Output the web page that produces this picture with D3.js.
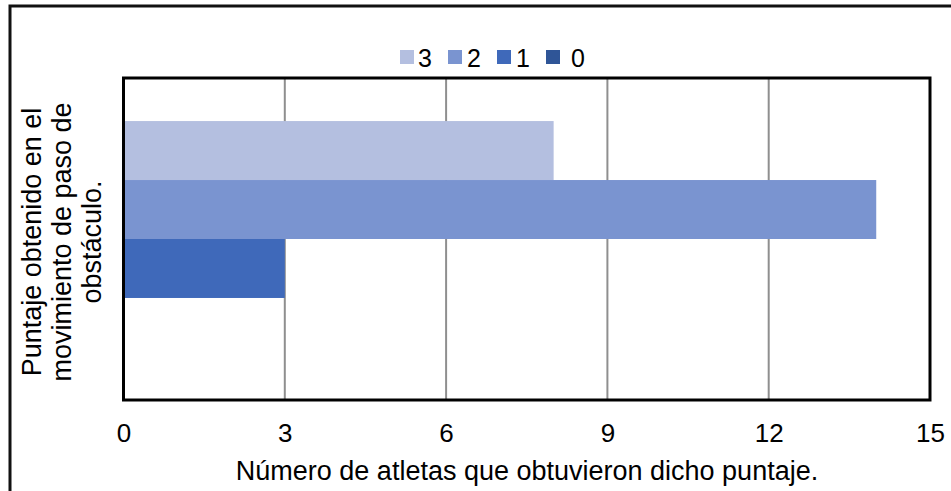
<!DOCTYPE html>
<html>
<head>
<meta charset="utf-8">
<script src="https://cdn.jsdelivr.net/npm/d3@7"></script>
<style>
  html, body { margin: 0; padding: 0; background: #fff; }
  svg { display: block; font-family: "Liberation Sans", Arial, sans-serif; }
</style>
</head>
<body>
<svg id="chart" width="951" height="491"></svg>
<script>
// Puntaje obtenido (series) and número de atletas
const series = ["3", "2", "1", "0"];
const values = [8, 14, 3, 0];
const colors = ["#b4bfe0", "#7a94d0", "#3f69ba", "#2f5597"];
const xTicks = [0, 3, 6, 9, 12, 15];
const yTitleLines = ["Puntaje obtenido en el", "movimiento de paso de", "obstáculo."];
const xTitle = "Número de atletas que obtuvieron dicho puntaje.";

const FONT = "'Liberation Sans', Arial, sans-serif";
const svg = d3.select("#chart");
const plot = { left: 123.5, right: 930, top: 78, bottom: 400 };

const x = d3.scaleLinear().domain([0, 15]).range([plot.left, plot.right]);
const y = d3.scaleBand().domain(series).range([plot.top, plot.bottom])
  .paddingInner(0).paddingOuter(0.73);

// outer chart border
svg.append("rect")
  .attr("x", 10).attr("y", 6).attr("width", 980).attr("height", 520)
  .attr("fill", "#fff").attr("stroke", "#111").attr("stroke-width", 3);

// vertical gridlines
svg.append("g")
  .selectAll("line")
  .data(xTicks.filter(d => d > 0 && d < 15))
  .join("line")
  .attr("x1", d => x(d)).attr("x2", d => x(d))
  .attr("y1", plot.top).attr("y2", plot.bottom)
  .attr("stroke", "#8f8f8f").attr("stroke-width", 2);

// bars
svg.append("g")
  .selectAll("rect")
  .data(series.map((s, i) => ({ s, v: values[i], c: colors[i] })))
  .join("rect")
  .attr("x", x(0))
  .attr("y", d => y(d.s))
  .attr("width", d => x(d.v) - x(0))
  .attr("height", y.bandwidth())
  .attr("fill", d => d.c);

// plot frame
svg.append("rect")
  .attr("x", plot.left).attr("y", plot.top)
  .attr("width", plot.right - plot.left).attr("height", plot.bottom - plot.top)
  .attr("fill", "none").attr("stroke", "#000").attr("stroke-width", 3);

// x axis tick labels
const xAxis = d3.axisBottom(x).tickValues(xTicks).tickSize(0).tickPadding(0).tickFormat(d3.format("d"));
const gx = svg.append("g").call(xAxis)
  .attr("font-size", 26).attr("font-family", FONT);
gx.select(".domain").remove();
gx.selectAll("text")
  .attr("y", 442).attr("dy", null)
  .attr("fill", "#000");

// x axis title
svg.append("text")
  .attr("x", 527).attr("y", 480)
  .attr("text-anchor", "middle")
  .attr("font-size", 27).attr("fill", "#000")
  .text(xTitle);

// y axis title (rotated, three lines)
const yt = svg.append("text")
  .attr("transform", "translate(0, 242) rotate(-90)")
  .attr("text-anchor", "middle")
  .attr("font-size", 27).attr("fill", "#000");
yTitleLines.forEach((line, i) => {
  yt.append("tspan")
    .attr("x", 0)
    .attr("y", 40.5 + i * 30.3)
    .text(line);
});

// legend
const legendX = [400, 448, 497, 546];
const legendTextX = [418, 467, 516, 571];
const lg = svg.append("g");
series.forEach((s, i) => {
  lg.append("rect")
    .attr("x", legendX[i]).attr("y", 50)
    .attr("width", 14).attr("height", 14)
    .attr("fill", colors[i]);
  lg.append("text")
    .attr("x", legendTextX[i]).attr("y", 67)
    .attr("font-size", 25).attr("fill", "#000")
    .text(s);
});
</script>
</body>
</html>
